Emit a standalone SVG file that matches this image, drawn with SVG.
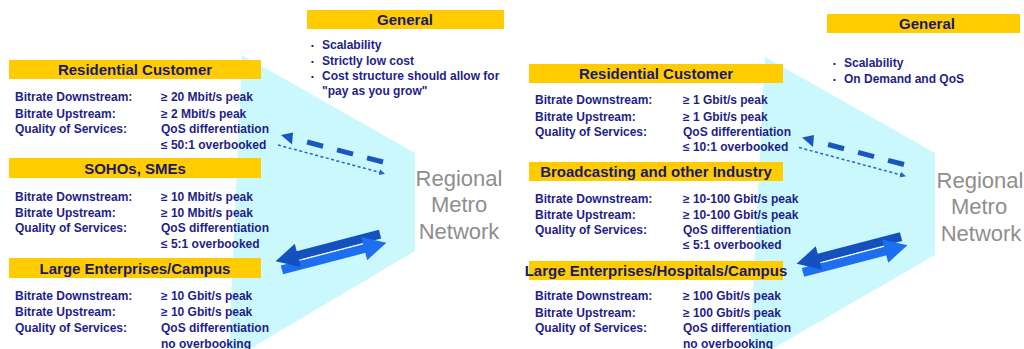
<svg xmlns="http://www.w3.org/2000/svg" xmlns:xlink="http://www.w3.org/1999/xlink" width="1024" height="349" viewBox="0 0 1024 349">
  <style>
    text { font-family: "Liberation Sans", Arial, sans-serif; font-weight: bold; }
    .bar { fill: #ffcc00; }
    .head { font-size: 15px; fill: #1a1a66; text-anchor: middle; }
    .row { font-size: 12px; fill: #1e1e8a; }
    .bullet { font-size: 12px; fill: #1e1e8a; }
    .dot { font-size: 8px; fill: #1e1e8a; }
    .metro { font-size: 22px; fill: #8e8e8e; font-weight: normal; text-anchor: middle; }
    .cone { fill: #cbf8fc; }
  </style>
  <defs>
    <marker id="tip-small" viewBox="0 0 6 6" refX="5" refY="3" markerWidth="6" markerHeight="6" markerUnits="userSpaceOnUse" orient="auto">
      <path d="M0,0 L6,3 L0,6 z" fill="#2a62d0"/>
    </marker>
    <!-- request/answer link: thick dashes with a head, thin dotted return -->
    <g id="dash-link">
      <line x1="383" y1="162" x2="307" y2="142" stroke="#1a55c0" stroke-width="5" stroke-dasharray="16.5 14.5"/>
      <polygon points="281,135 293,132.5 292,144.5" fill="#1a55c0"/>
      <line x1="278" y1="145" x2="384" y2="173.5" stroke="#2a62d0" stroke-width="1.5" stroke-dasharray="3 2.5" marker-end="url(#tip-small)"/>
    </g>
    <!-- two-way high capacity link -->
    <g id="duplex-link">
      <g transform="translate(331,252) rotate(-14.6)">
        <polygon points="40,0.5 40,9.5 -52,9.5 -52,0.5" fill="#1e6ef0"/>
        <polygon points="52,-9.5 52,-0.5 -36,-0.5 -36,-9.5" fill="#1450be"/>
        <line x1="-30" y1="0" x2="36" y2="0" stroke="#ffffff" stroke-width="1.2" opacity="0.75"/>
        <polygon points="33,-7 56,5 33,17" fill="#1e6ef0"/>
        <polygon points="-33,-17 -56,-5 -33,7" fill="#1450be"/>
      </g>
    </g>
  </defs>

  <rect width="1024" height="349" fill="#ffffff"/>

  <!-- access cones towards the metro network -->
  <polygon class="cone" points="242,55 415,153 415,251 250,349 229,349"/>
  <polygon class="cone" points="765,57 935,153 935,255 772,349 750,349"/>

  <!-- ===== left panel ===== -->
  <g id="left-general">
    <rect class="bar" x="307" y="10" width="197" height="19"/>
    <text class="head" x="405" y="25">General</text>
    <text class="dot" x="311" y="48">•</text>
    <text class="bullet" x="322" y="49">Scalability</text>
    <text class="dot" x="311" y="64">•</text>
    <text class="bullet" x="322" y="65">Strictly low cost</text>
    <text class="dot" x="311" y="79">•</text>
    <text class="bullet" x="322" y="80">Cost structure should allow for</text>
    <text class="bullet" x="322" y="95">"pay as you grow"</text>
  </g>

  <g id="left-residential">
    <rect class="bar" x="9" y="60" width="252" height="19"/>
    <text class="head" x="135" y="75">Residential Customer</text>
    <text class="row" x="15" y="101">Bitrate Downstream:</text>
    <text class="row" x="161" y="101">≥ 20 Mbit/s peak</text>
    <text class="row" x="15" y="117.5">Bitrate Upstream:</text>
    <text class="row" x="161" y="117.5">≥ 2 Mbit/s peak</text>
    <text class="row" x="15" y="132.5">Quality of Services:</text>
    <text class="row" x="161" y="132.5">QoS differentiation</text>
    <text class="row" x="161" y="148.5">≤ 50:1 overbooked</text>
  </g>

  <g id="left-soho">
    <rect class="bar" x="9" y="158" width="252" height="20"/>
    <text class="head" x="135" y="173.5">SOHOs, SMEs</text>
    <text class="row" x="15" y="200.5">Bitrate Downstream:</text>
    <text class="row" x="161" y="200.5">≥ 10 Mbit/s peak</text>
    <text class="row" x="15" y="216.5">Bitrate Upstream:</text>
    <text class="row" x="161" y="216.5">≥ 10 Mbit/s peak</text>
    <text class="row" x="15" y="231.5">Quality of Services:</text>
    <text class="row" x="161" y="231.5">QoS differentiation</text>
    <text class="row" x="161" y="247.5">≤ 5:1 overbooked</text>
  </g>

  <g id="left-enterprise">
    <rect class="bar" x="9" y="258" width="252" height="20"/>
    <text class="head" x="135" y="273.5">Large Enterprises/Campus</text>
    <text class="row" x="15" y="299.5">Bitrate Downstream:</text>
    <text class="row" x="161" y="299.5">≥ 10 Gbit/s peak</text>
    <text class="row" x="15" y="316">Bitrate Upstream:</text>
    <text class="row" x="161" y="316">≥ 10 Gbit/s peak</text>
    <text class="row" x="15" y="331.5">Quality of Services:</text>
    <text class="row" x="161" y="331.5">QoS differentiation</text>
    <text class="row" x="161" y="347.5">no overbooking</text>
  </g>

  <g id="left-metro">
    <text class="metro" x="459" y="185.5">Regional</text>
    <text class="metro" x="459" y="212">Metro</text>
    <text class="metro" x="459" y="238.5">Network</text>
  </g>

  <!-- ===== right panel ===== -->
  <g id="right-general">
    <rect class="bar" x="827" y="14" width="193" height="19"/>
    <text class="head" x="927" y="29">General</text>
    <text class="dot" x="833" y="66">•</text>
    <text class="bullet" x="844" y="67">Scalability</text>
    <text class="dot" x="833" y="82">•</text>
    <text class="bullet" x="844" y="83">On Demand and QoS</text>
  </g>

  <g id="right-residential">
    <rect class="bar" x="529" y="64" width="254" height="19"/>
    <text class="head" x="656" y="79">Residential Customer</text>
    <text class="row" x="535" y="103.5">Bitrate Downstream:</text>
    <text class="row" x="683" y="103.5">≥ 1 Gbit/s peak</text>
    <text class="row" x="535" y="120.5">Bitrate Upstream:</text>
    <text class="row" x="683" y="120.5">≥  1 Gbit/s peak</text>
    <text class="row" x="535" y="135.5">Quality of Services:</text>
    <text class="row" x="683" y="135.5">QoS differentiation</text>
    <text class="row" x="683" y="151">≤ 10:1 overbooked</text>
  </g>

  <g id="right-industry">
    <rect class="bar" x="529" y="162" width="254" height="19"/>
    <text class="head" x="656" y="177">Broadcasting and other Industry</text>
    <text class="row" x="535" y="202.5">Bitrate Downstream:</text>
    <text class="row" x="683" y="202.5">≥  10-100 Gbit/s peak</text>
    <text class="row" x="535" y="219">Bitrate Upstream:</text>
    <text class="row" x="683" y="219">≥  10-100 Gbit/s peak</text>
    <text class="row" x="535" y="233.5">Quality of Services:</text>
    <text class="row" x="683" y="233.5">QoS differentiation</text>
    <text class="row" x="683" y="249">≤ 5:1 overbooked</text>
  </g>

  <g id="right-enterprise">
    <rect class="bar" x="529" y="261" width="254" height="19"/>
    <text class="head" x="656" y="276">Large Enterprises/Hospitals/Campus</text>
    <text class="row" x="535" y="300">Bitrate Downstream:</text>
    <text class="row" x="683" y="300">≥ 100 Gbit/s peak</text>
    <text class="row" x="535" y="316.5">Bitrate Upstream:</text>
    <text class="row" x="683" y="316.5">≥ 100 Gbit/s peak</text>
    <text class="row" x="535" y="331.5">Quality of Services:</text>
    <text class="row" x="683" y="331.5">QoS differentiation</text>
    <text class="row" x="683" y="347.5">no overbooking</text>
  </g>

  <g id="right-metro">
    <text class="metro" x="980" y="187.5">Regional</text>
    <text class="metro" x="979" y="214">Metro</text>
    <text class="metro" x="981" y="240.5">Network</text>
  </g>

  <!-- ===== connectors ===== -->
  <g id="connectors">
    <use xlink:href="#dash-link"/>
    <use xlink:href="#duplex-link"/>
    <use xlink:href="#dash-link" transform="translate(521,2.5)"/>
    <use xlink:href="#duplex-link" transform="translate(521,2.5)"/>
  </g>
</svg>
